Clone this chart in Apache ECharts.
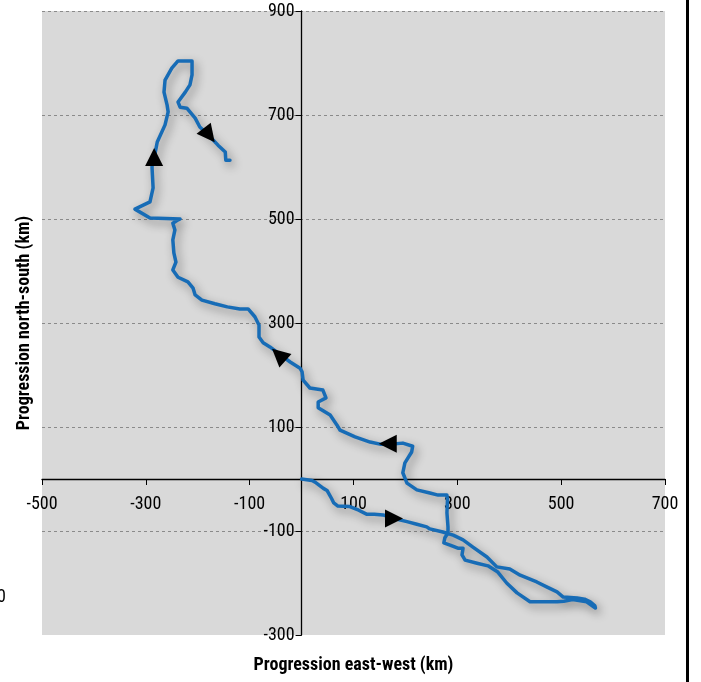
<!DOCTYPE html>
<html>
<head>
<meta charset="utf-8">
<script src="https://cdn.jsdelivr.net/npm/echarts@6/dist/echarts.min.js"></script>
<style>
html,body{margin:0;padding:0;background:#fff;}
#chart{width:701px;height:682px;}
</style>
</head>
<body>
<div id="chart"></div>
<script>
// Track of progression (km): east-west (x) and north-south (y), in travel order
const eastWest = [
  0, 3, 20, 26, 42, 49, 58, 62, 70, 93, 110, 126, 140, 157, 178, 203, 222, 241, 247, 272,
  292, 311, 330, 357, 376, 401, 421, 453, 473, 492, 504, 531, 545, 556, 565,
  566, 549, 522, 505, 492, 440, 415, 395, 378, 359, 338, 315, 309, 311, 301, 286, 274, 276, 282, 282, 280, 281, 280,
  263, 247, 222, 203, 195, 199, 212, 214, 195, 170, 151, 132, 103, 74, 68, 55, 32, 32, 47, 41, 16, 3, 1, -3,
  -22, -45, -61, -74, -82, -82, -90, -103, -119, -143, -167, -192, -205, -209, -219, -238, -248, -242, -246, -248,
  -244, -248, -240, -234, -262, -292, -321, -292, -286, -288, -288, -284, -278, -263, -257, -259, -265, -263,
  -250, -238, -211, -211, -215, -224, -238, -234, -221, -205, -196, -180, -161, -147, -146, -138
];
const northSouth = [
  0, 0, -3, -6, -18, -22, -38, -46, -52, -53, -60, -68, -68, -69, -76, -82, -87, -92, -96, -102,
  -108, -117, -131, -150, -169, -173, -185, -198, -208, -217, -227, -229, -231, -236, -244,
  -248, -236, -232, -235, -236, -236, -219, -200, -179, -167, -162, -156, -146, -133, -133, -127, -123, -113, -104, -92, -65, -40, -31,
  -31, -27, -21, -8, 12, 31, 52, 63, 69, 67, 67, 71, 81, 94, 104, 123, 137, 148, 156, 171, 175, 190, 206, 213,
  225, 242, 254, 262, 273, 296, 312, 327, 327, 331, 337, 344, 354, 367, 379, 388, 402, 417, 435, 460,
  479, 492, 497, 500, 501, 502, 519, 533, 560, 598, 610, 617, 648, 681, 706, 719, 744, 767,
  790, 804, 804, 777, 758, 744, 725, 715, 713, 694, 677, 662, 642, 629, 613, 613
];
// Direction arrows along the track
const arrowEW = [178, 166, -44, -284, -178];
const arrowNS = [-76, 68, 239, 619, 661];
const arrowHeading = [-90, 90, 48, 0, -142];

const xMin = -500, xMax = 700, xStep = 200;
const yMin = -300, yMax = 900, yStep = 200;

const xTitle = 'Progression east-west (km)';
const yTitle = 'Progression north-south (km)';

const FONT = "'Roboto Condensed','DejaVu Sans Condensed',sans-serif";

// plot box (pixels)
const G = { left: 42, top: 11, width: 623, height: 624 };
// axes cross at zero: shift each axis from the grid edge to the zero line
const xAxisShift = -(G.height * (0 - yMin) / (yMax - yMin));
const yAxisShift = -(G.width * (0 - xMin) / (xMax - xMin));

const track = eastWest.map((x, i) => [x, northSouth[i]]);
const arrows = arrowEW.map((x, i) => ({ value: [x, arrowNS[i]], symbolRotate: arrowHeading[i] }));

const chart = echarts.init(document.getElementById('chart'), null, { renderer: 'canvas' });
chart.setOption({
  animation: false,
  backgroundColor: '#ffffff',
  grid: {
    left: G.left, top: G.top, width: G.width, height: G.height, outerBoundsMode: 'none', containLabel: false,
    show: true, backgroundColor: '#d9d9d9', borderWidth: 0
  },
  xAxis: {
    type: 'value', min: xMin, max: xMax, interval: xStep,
    position: 'bottom', offset: xAxisShift,
    name: xTitle, nameLocation: 'middle', nameGap: 177,
    nameTextStyle: { fontFamily: FONT, fontSize: 18, fontWeight: 'bold', color: '#000' },
    axisLine: { onZero: false, lineStyle: { color: '#000', width: 1.3 } },
    axisTick: { show: true, length: 6, lineStyle: { color: '#000', width: 1 } },
    axisLabel: { fontFamily: FONT, fontSize: 18, color: '#000', margin: 16, showMinLabel: true, showMaxLabel: true },
    splitLine: { show: false }
  },
  yAxis: {
    type: 'value', min: yMin, max: yMax, interval: yStep,
    position: 'left', offset: yAxisShift,
    name: yTitle, nameLocation: 'middle', nameGap: 268, nameRotate: 90,
    nameTextStyle: { fontFamily: FONT, fontSize: 18, fontWeight: 'bold', color: '#000' },
    axisLine: { onZero: false, lineStyle: { color: '#000', width: 1.3 } },
    axisTick: { show: true, length: 6, lineStyle: { color: '#000', width: 1 } },
    axisLabel: { fontFamily: FONT, fontSize: 18, color: '#000', margin: 7, padding: [10, 0, 0, 0], showMinLabel: true, showMaxLabel: true },
    splitLine: { show: true, showMinLine: false, showMaxLine: true, lineStyle: { color: '#8a8a8a', width: 1, type: [3, 3] } }
  },
  series: [
    {
      type: 'line',
      data: track,
      symbol: 'none',
      smooth: false,
      z: 3,
      lineStyle: {
        color: '#176cb6', width: 3.5, join: 'round', cap: 'round',
        shadowColor: 'rgba(0,0,0,0.42)', shadowBlur: 10, shadowOffsetX: 3, shadowOffsetY: 4
      }
    },
    {
      type: 'scatter',
      data: arrows,
      symbol: 'triangle',
      symbolSize: 18,
      z: 4,
      itemStyle: { color: '#000', opacity: 1 }
    }
  ],
  graphic: [
    { type: 'rect', left: 686, top: 0, shape: { width: 3, height: 682 }, style: { fill: '#000' } },
    { type: 'text', left: -3, top: 588, style: { text: '0', font: "18px 'Roboto Condensed','DejaVu Sans Condensed',sans-serif", fill: '#000' } }
  ]
});
</script>
</body>
</html>
